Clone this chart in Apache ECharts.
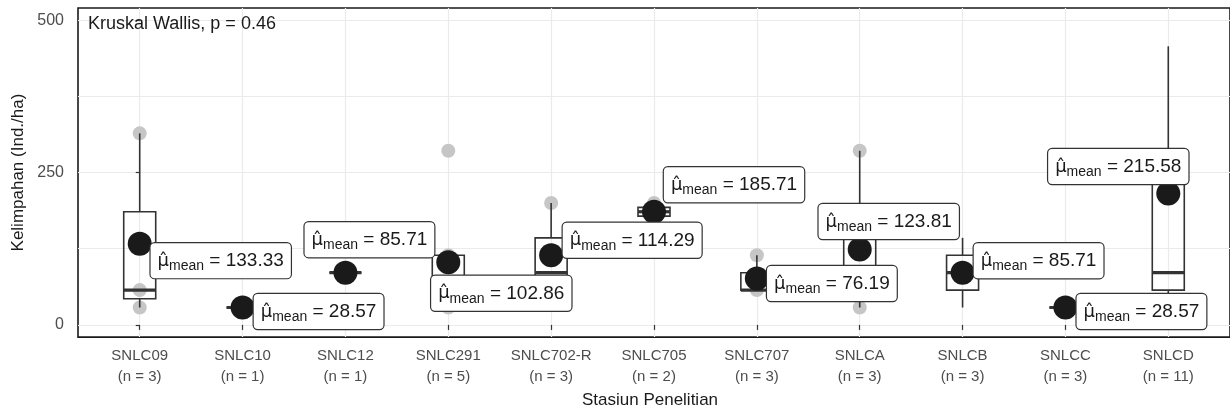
<!DOCTYPE html>
<html>
<head>
<meta charset="utf-8">
<script src="https://cdn.jsdelivr.net/npm/echarts@6/dist/echarts.min.js"></script>
<style>
html,body{margin:0;padding:0;background:#fff;}
#chart{width:1230px;height:414px;}
</style>
</head>
<body>
<div id="chart"></div>
<script>
// ---- data ----
const categories = ['SNLC09','SNLC10','SNLC12','SNLC291','SNLC702-R','SNLC705','SNLC707','SNLCA','SNLCB','SNLCC','SNLCD'];
const counts = [3,1,1,5,3,2,3,3,3,3,11];
// [min, Q1, median, Q3, max]
const boxStats = [
  [28.57, 42.86, 57.14, 185.71, 314.29],
  [28.57, 28.57, 28.57, 28.57, 28.57],
  [85.71, 85.71, 85.71, 85.71, 85.71],
  [28.57, 28.57, 57.14, 114.29, 114.29],
  [57.14, 71.43, 85.71, 142.86, 200.00],
  [171.43, 178.57, 185.71, 192.86, 200.00],
  [57.14, 57.14, 57.14, 85.71, 114.29],
  [28.57, 42.86, 57.14, 171.43, 285.71],
  [28.57, 57.14, 85.71, 114.29, 142.86],
  [28.57, 28.57, 28.57, 28.57, 28.57],
  [28.57, 57.14, 85.71, 257.14, 457.14]
];
const means = [133.33, 28.57, 85.71, 102.86, 114.29, 185.71, 76.19, 123.81, 85.71, 28.57, 215.58];
// raw observations that are visible: [category index, value]
const observations = [
  [0, 314.29], [0, 57.14], [0, 28.57],
  [3, 285.71], [3, 114.29], [3, 28.57],
  [4, 200.00], [5, 200.00],
  [6, 114.29], [6, 57.14],
  [7, 285.71], [7, 28.57]
];
const yTickValues = [0, 250, 500];
const yGridValues = [0, 125, 250, 375, 500];
const titleText = 'Kruskal Wallis, p = 0.46';

// ---- layout (label placement, px offsets from the mean point) ----
const labelShift = [[81,17],[76,4],[24,-33],[53,31],[81,-15],[80,-27],[75,5],[29,-28],[76,-12],[76,4],[-50,-27]];

const catIdx = categories.map((c, i) => i);
const chart = echarts.init(document.getElementById('chart'), null, {renderer: 'canvas'});

const gridLines = [];
yGridValues.forEach(v => gridLines.push({yAxis: v}));
catIdx.forEach(i => gridLines.push({xAxis: i}));

const option = {
  animation: false,
  backgroundColor: '#fff',
  grid: {left: 78, top: 8, right: -18, bottom: 74, show: true, borderColor: '#1a1a1a', borderWidth: 1.6, backgroundColor: '#fff'},
  xAxis: {
    type: 'value', min: -0.6, max: 10.6,
    axisLine: {show: false},
    splitLine: {show: false},
    axisTick: {show: true, customValues: catIdx, length: 5, lineStyle: {color: '#333', width: 1.2}},
    axisLabel: {
      customValues: catIdx, margin: 8,
      formatter: v => categories[Math.round(v)] + '\n(n = ' + counts[Math.round(v)] + ')',
      color: '#4d4d4d', fontSize: 15, lineHeight: 21, fontFamily: 'Liberation Sans'
    },
    name: 'Stasiun Penelitian', nameLocation: 'middle', nameGap: 52,
    nameTextStyle: {color: '#1a1a1a', fontSize: 17, fontFamily: 'Liberation Sans', padding: [0, 8, 0, 0]}
  },
  yAxis: {
    type: 'value', min: -20, max: 520,
    axisLine: {show: false},
    splitLine: {show: false},
    axisTick: {show: true, customValues: yTickValues, length: 4, lineStyle: {color: '#333', width: 1.2}},
    axisLabel: {customValues: yTickValues, color: '#4d4d4d', fontSize: 16, fontFamily: 'Liberation Sans', margin: 14},
    name: 'Kelimpahan (Ind./ha)', nameLocation: 'middle', nameGap: 49, nameRotate: 90,
    nameTextStyle: {color: '#1a1a1a', fontSize: 17, fontFamily: 'Liberation Sans'}
  },
  graphic: [{
    type: 'text', left: 88, top: 15, z: 100,
    style: {text: titleText, font: '18px "Liberation Sans"', fill: '#1a1a1a'}
  }],
  series: [
    {
      type: 'scatter', name: 'grid', data: [], z: 0, silent: true,
      markLine: {
        silent: true, z: 0, symbol: ['none', 'none'], label: {show: false},
        lineStyle: {color: '#ebebeb', width: 1.2, type: 'solid'},
        animation: false,
        data: gridLines
      }
    },
    {
      type: 'scatter', name: 'obs', z: 2, silent: true,
      symbolSize: 14,
      itemStyle: {color: '#c6c6c6', opacity: 1},
      data: observations
    },
    {
      type: 'custom', name: 'box', z: 3, silent: true,
      data: boxStats.map((b, i) => [i].concat(b)),
      encode: {x: 0, y: [1, 2, 3, 4, 5]},
      renderItem: function (params, api) {
        const i = api.value(0);
        const mn = api.coord([i, api.value(1)]);
        const q1 = api.coord([i, api.value(2)]);
        const md = api.coord([i, api.value(3)]);
        const q3 = api.coord([i, api.value(4)]);
        const mx = api.coord([i, api.value(5)]);
        const x = mn[0];
        const hw = 16;
        const stroke = '#333333';
        const children = [];
        if (mx[1] < q3[1]) children.push({type: 'line', shape: {x1: x, y1: q3[1], x2: x, y2: mx[1]}, style: {stroke: stroke, lineWidth: 1.6}});
        if (mn[1] > q1[1]) children.push({type: 'line', shape: {x1: x, y1: q1[1], x2: x, y2: mn[1]}, style: {stroke: stroke, lineWidth: 1.6}});
        children.push({type: 'rect', shape: {x: x - hw, y: q3[1], width: 2 * hw, height: Math.max(q1[1] - q3[1], 0)}, style: {fill: 'none', stroke: stroke, lineWidth: 1.6}});
        children.push({type: 'line', shape: {x1: x - hw, y1: md[1], x2: x + hw, y2: md[1]}, style: {stroke: stroke, lineWidth: 3.2}});
        return {type: 'group', children: children};
      }
    },
    {
      type: 'scatter', name: 'mean', z: 6, silent: true,
      symbolSize: 24,
      itemStyle: {color: '#1a1a1a', opacity: 1},
      data: means.map((m, i) => ({
        value: [i, m],
        label: {offset: labelShift[i]}
      })),
      label: {
        show: true, position: 'inside', align: 'center', verticalAlign: 'middle',
        backgroundColor: '#fff', borderColor: '#333', borderWidth: 1.2, borderRadius: 4,
        padding: [6, 7, 5, 7], opacity: 1,
        formatter: p => '{mu|\u03BC\u0302}{sub|mean}{eq| = ' + means[p.dataIndex].toFixed(2) + '}',
        rich: {
          mu: {fontSize: 18, fontFamily: 'DejaVu Sans', color: '#1a1a1a', lineHeight: 24, verticalAlign: 'middle'},
          sub: {fontSize: 14, fontFamily: 'Liberation Sans', color: '#1a1a1a', lineHeight: 14, verticalAlign: 'bottom'},
          eq: {fontSize: 19, fontFamily: 'Liberation Sans', color: '#1a1a1a', lineHeight: 24, verticalAlign: 'middle'}
        }
      }
    }
  ]
};
chart.setOption(option);
</script>
</body>
</html>
